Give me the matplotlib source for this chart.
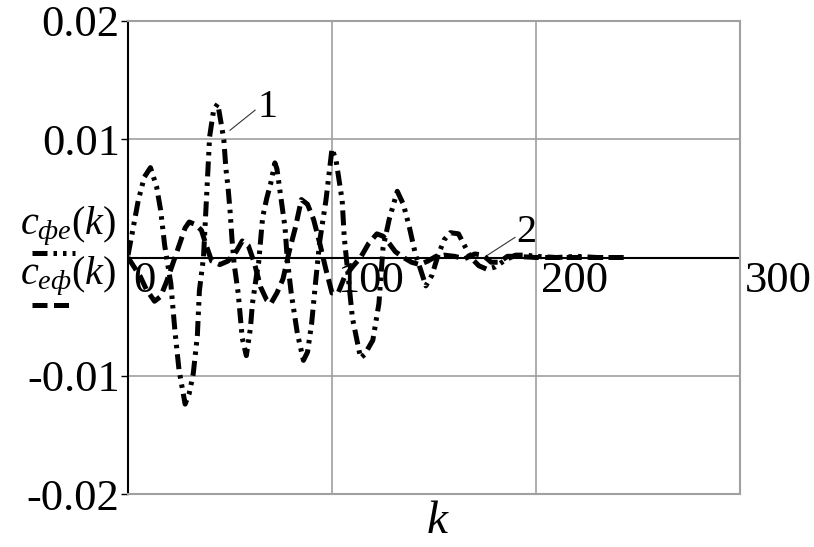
import matplotlib.pyplot as plt
from matplotlib.lines import Line2D
from matplotlib.transforms import offset_copy

plt.rcParams['font.family'] = ['Liberation Serif', 'DejaVu Serif']
plt.rcParams['mathtext.fontset'] = 'custom'
plt.rcParams['mathtext.rm'] = 'Liberation Serif'
plt.rcParams['mathtext.it'] = 'Liberation Serif:italic'

# curve 1: c_фе(k)
k1 = [0, 2, 5, 8, 11, 14, 16, 18, 21, 23, 25, 28, 30, 32, 34, 35, 37, 38, 39, 40,
      42, 44, 46, 47, 48, 49, 50, 51, 52, 54, 56, 58, 60, 61, 63, 64, 66, 68, 70,
      72, 73, 75, 77, 78, 80, 83, 86, 88, 90, 92, 94, 97, 100, 102, 105, 106, 108,
      110, 114, 116, 120, 123, 125, 128, 132, 135, 138, 141, 143, 146, 149, 152,
      155, 158, 162, 165, 168, 172, 176, 180, 185, 190, 195, 200, 210, 220, 230, 243]
c1 = [0.0002, 0.0020, 0.0048, 0.0068, 0.0076, 0.0060, 0.0040, 0.0010, -0.0022,
      -0.0062, -0.0095, -0.0124, -0.0115, -0.0098, -0.0066, -0.0028, 0.0000, 0.0034,
      0.0068, 0.0102, 0.0125, 0.0130, 0.0110, 0.0099, 0.0075, 0.0060, 0.0040, 0.0015,
      -0.0005, -0.0030, -0.0068, -0.0083, -0.0060, -0.0039, -0.0015, -0.0005, 0.0034,
      0.0050, 0.0063, 0.0080, 0.0075, 0.0050, 0.0025, 0.0000, -0.0030, -0.0064,
      -0.0087, -0.0080, -0.0056, -0.0020, 0.0014, 0.0048, 0.0092, 0.0082, 0.0048,
      0.0017, -0.0017, -0.0051, -0.0085, -0.0082, -0.0070, -0.0039, 0.0008, 0.0032,
      0.0056, 0.0045, 0.0025, 0.0002, -0.0008, -0.0024, -0.0015, 0.0002, 0.0015,
      0.0021, 0.0020, 0.0010, 0.0000, -0.0007, -0.0010, -0.0008, -0.0002, 0.0002,
      0.0002, 0.0001, 0.0000, 0.0001, 0.0000, 0.0000]

# curve 2: c_еф(k)
k2 = [0, 3, 6, 9, 13, 16, 19, 22, 25, 28, 30, 33, 36, 38, 41, 45, 49, 53, 56, 59,
      62, 65, 68, 70, 73, 76, 79, 82, 85, 88, 91, 94, 97, 100, 103, 106, 110, 114,
      118, 122, 125, 128, 131, 135, 139, 143, 147, 151, 155, 160, 165, 170, 174,
      178, 182, 186, 190, 200, 210, 220, 230, 243]
c2 = [0.0000, -0.0008, -0.0016, -0.0027, -0.0037, -0.0033, -0.0020, -0.0005, 0.0010,
      0.0025, 0.0030, 0.0028, 0.0023, 0.0012, -0.0003, -0.0006, -0.0003, 0.0005,
      0.0014, 0.0010, -0.0005, -0.0025, -0.0036, -0.0039, -0.0030, -0.0018, 0.0005,
      0.0025, 0.0049, 0.0045, 0.0032, 0.0012, -0.0010, -0.0030, -0.0030, -0.0017,
      -0.0008, 0.0000, 0.0012, 0.0020, 0.0018, 0.0012, 0.0005, 0.0000, -0.0004,
      -0.0006, -0.0003, 0.0001, 0.0002, 0.0001, -0.0001, 0.0003, 0.0002, -0.0004,
      -0.0004, 0.0001, 0.0001, 0.0000, 0.0000, 0.0000, 0.0000, 0.0000]

yticks = [-0.02, -0.01, 0.01, 0.02]
ytick_labels = ['-0.02', '-0.01', '0.01', '0.02']
xticks = [0, 100, 200, 300]
xtick_labels = ['0', '100', '200', '300']

style1 = (0, (3, 1.2, 0.7, 1.2, 0.7, 1.2))
style2 = (0, (3, 1.3))
grey = '#a0a0a0'

fig = plt.figure(figsize=(8.14, 5.47), dpi=100)
ax = fig.add_axes([128 / 814, 1 - 494 / 547, 612 / 814, 473 / 547])

ax.set_xlim(0, 300)
ax.set_ylim(-0.02, 0.02)
ax.set_xticks([100, 200])
ax.set_yticks(yticks)
ax.set_yticklabels(ytick_labels)
ax.tick_params(axis='x', length=0, labelbottom=False)
ax.tick_params(axis='y', direction='out', length=5, width=1, pad=1,
               labelsize=32, color='black')
ax.grid(True, color=grey, lw=1.2)
for s in ['top', 'right', 'bottom']:
    ax.spines[s].set_color(grey)
    ax.spines[s].set_linewidth(1.5)
ax.spines['left'].set_color('black')
ax.spines['left'].set_linewidth(1.5)
ax.axhline(0, color='black', lw=1.5, zorder=2)

ax.plot(k1, c1, color='black', lw=3.6, linestyle=style1, zorder=3)
ax.plot(k2, c2, color='black', lw=3.6, linestyle=style2, zorder=3)

# x tick labels sit under the zero line, Mathcad style
tr = offset_copy(ax.transData, fig=fig, x=5, y=-3, units='dots')
for xv, lab in zip(xticks, xtick_labels):
    ax.text(xv, 0, lab, transform=tr, ha='left', va='top', fontsize=32,
            clip_on=False, zorder=2)

# curve labels
ax.plot([50, 62.3], [0.01076, 0.01246], color='#333333', lw=0.8)
ax.text(63.5, 0.0127, '1', fontsize=29, ha='left', va='center')
ax.plot([176, 189.7], [0.00017, 0.0017], color='#333333', lw=0.8)
ax.text(190.5, 0.0021, '2', fontsize=29, ha='left', va='center')

# y labels with line samples
fig.text(116 / 814, 1 - 234 / 547, r'$c_{фе}(k)$', fontsize=29,
         ha='right', va='baseline')
fig.text(116 / 814, 1 - 284 / 547, r'$c_{еф}(k)$', fontsize=29,
         ha='right', va='baseline')
fig.add_artist(Line2D([32 / 814, 75 / 814], [1 - 253 / 547, 1 - 253 / 547],
                      color='black', lw=3.6, linestyle=style1))
fig.add_artist(Line2D([32 / 814, 73 / 814], [1 - 305 / 547, 1 - 305 / 547],
                      color='black', lw=3.6, linestyle=style2))

fig.text(437 / 814, 1 - 522 / 547, 'k', fontsize=34, style='italic',
         ha='center', va='center')

fig.savefig('out.png', dpi=100)
plt.close(fig)
